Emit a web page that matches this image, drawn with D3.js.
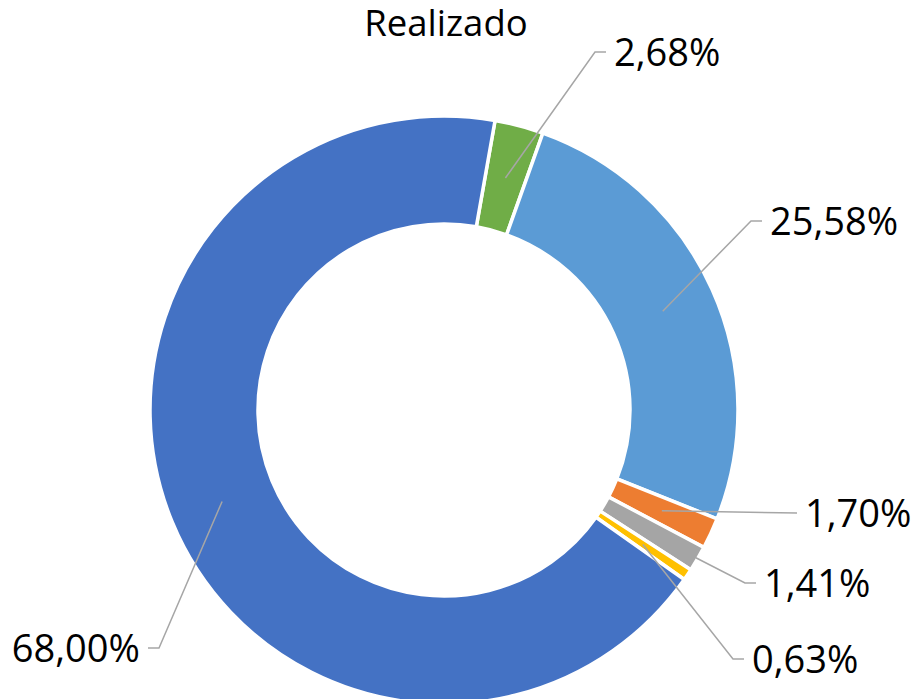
<!DOCTYPE html>
<html>
<head>
  <meta charset="utf-8">
  <title>Realizado</title>
  <script src="https://d3js.org/d3.v7.min.js"></script>
<style>
body {
  margin: 0;
  background: #fff;
}
.title {
  font: 36.5px "Open Sans", sans-serif;
  fill: #000;
  text-anchor: middle;
}
.lbl {
  font: 38px "Open Sans", sans-serif;
  fill: #000;
}
.arc path {
  stroke: #fff;
  stroke-width: 3.5;
}
.leader {
  fill: none;
  stroke: #a6a6a6;
  stroke-width: 1.5;
}
</style>
</head>
<body>
<svg width="915" height="699"></svg>
<script>

// slices, clockwise from the first one
var categories = ["Cat. 6", "Cat. 5", "Cat. 2", "Cat. 3", "Cat. 4", "Cat. 1"];
var values = [2.68, 25.58, 1.70, 1.41, 0.63, 68.00];
var labels = ["2,68%", "25,58%", "1,70%", "1,41%", "0,63%", "68,00%"];
var colors = ["#70ad47", "#5b9bd5", "#ed7d31", "#a5a5a5", "#ffc000", "#4472c4"];

// where excel put the labels: elbow of the leader, side of text, anchor on ring (mid/outer)
var labelPos = [
  {ex: 595, ey: 52, side: 1, at: "mid"},
  {ex: 751, ey: 221, side: 1, at: "mid"},
  {ex: 797, ey: 513, side: 1, at: "mid", straight: true},
  {ex: 745, ey: 583, side: 1, at: "outer"},
  {ex: 733, ey: 659, side: 1, at: "mid"},
  {ex: 159, ey: 648, side: -1, at: "mid"}
];

var svg = d3.select("svg"),
    cx = 444, cy = 410,
    outer = 294, inner = 186,
    g = svg.append("g").attr("transform", "translate(" + cx + "," + cy + ")");

svg.append("text")
    .attr("class", "title")
    .attr("x", 446)
    .attr("y", 36)
    .text("Realizado");

var data = categories.map(function(c, i) {
  return {cat: c, value: values[i], label: labels[i], color: colors[i], pos: labelPos[i]};
});

var start = 10 * Math.PI / 180;
var pie = d3.pie()
    .sort(null)
    .startAngle(start)
    .endAngle(start + 2 * Math.PI)
    .value(function(d) { return d.value; });

var path = d3.arc()
    .outerRadius(outer)
    .innerRadius(inner);

var mid = d3.arc()
    .outerRadius((outer + inner) / 2)
    .innerRadius((outer + inner) / 2);

var rim = d3.arc()
    .outerRadius(outer - 2)
    .innerRadius(outer - 2);

var arcs = pie(data);

var arc = g.selectAll(".arc")
    .data(arcs)
    .enter().append("g")
      .attr("class", "arc");

arc.append("path")
    .attr("d", path)
    .attr("fill", function(d) { return d.data.color; });

// leader lines
svg.selectAll(".leader")
    .data(arcs)
    .enter().append("path")
      .attr("class", "leader")
      .attr("d", function(d) {
        var p = d.data.pos;
        var c = (p.at == "outer" ? rim : mid).centroid(d);
        var a = [cx + c[0], cy + c[1]];
        if (p.straight) return "M" + a + "L" + [p.ex, p.ey];
        return "M" + a + "L" + [p.ex, p.ey] + "L" + [p.ex + 11 * p.side, p.ey];
      });

svg.selectAll(".lbl")
    .data(arcs)
    .enter().append("text")
      .attr("class", "lbl")
      .attr("x", function(d) {
        var p = d.data.pos;
        return p.straight ? p.ex + 8 : p.ex + 19 * p.side;
      })
      .attr("y", function(d) { return d.data.pos.ey; })
      .attr("dy", "0.37em")
      .attr("text-anchor", function(d) { return d.data.pos.side > 0 ? "start" : "end"; })
      .text(function(d) { return d.data.label; });

</script>
</body>
</html>
